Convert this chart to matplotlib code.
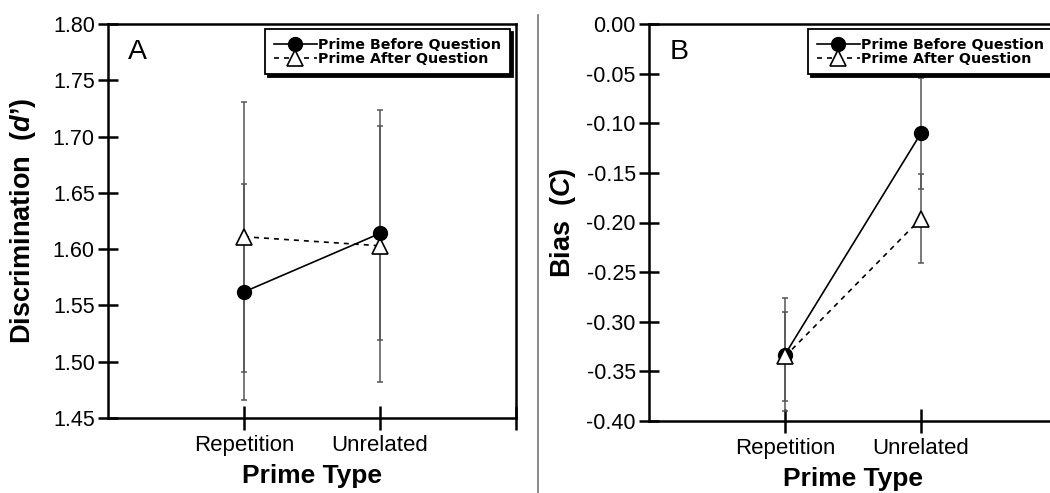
import matplotlib
matplotlib.use("Agg")
import matplotlib.pyplot as plt
from matplotlib.lines import Line2D

plt.rcParams['font.family'] = ['Liberation Sans', 'DejaVu Sans']
plt.rcParams['mathtext.fontset'] = 'custom'
plt.rcParams['mathtext.it'] = 'Liberation Sans:italic:bold'
plt.rcParams['mathtext.rm'] = 'Liberation Sans:bold'
plt.rcParams['axes.unicode_minus'] = False

prime_types = ["Repetition", "Unrelated"]
x_pos = [1, 2]

# panel A: discrimination d'
d_before = [1.562, 1.614]
d_before_err = [0.096, 0.095]
d_after = [1.611, 1.603]
d_after_err = [0.120, 0.121]
d_ticks = [1.45, 1.50, 1.55, 1.60, 1.65, 1.70, 1.75, 1.80]

# panel B: bias C
c_before = [-0.333, -0.110]
c_before_err = [0.057, 0.056]
c_after = [-0.335, -0.196]
c_after_err = [0.045, 0.045]
c_ticks = [-0.40, -0.35, -0.30, -0.25, -0.20, -0.15, -0.10, -0.05, 0.00]

labels = ["Prime Before Question", "Prime After Question"]

W, H = 1050, 493
fig = plt.figure(figsize=(W / 100, H / 100), dpi=100)
axA = fig.add_axes([108 / W, 1 - 418 / H, 408 / W, 394 / H])
axB = fig.add_axes([649 / W, 1 - 421 / H, 408 / W, 397 / H])

# separator line between panels
fig.add_artist(Line2D([538 / W, 538 / W], [0, 1 - 15 / H], color="#777777", lw=1.2,
                      transform=fig.transFigure))


def panel(ax, before, before_err, after, after_err, ticks, ylabel, letter,
          before_on_top, leg_anchor, leg_loc, xlab_y, ylab_x):
    zb, za = (4, 3) if before_on_top else (3, 4)
    ax.errorbar(x_pos, before, yerr=before_err, fmt='none', ecolor='#555555',
                elinewidth=1.1, capsize=2.5, capthick=1.1, zorder=2)
    ax.errorbar(x_pos, after, yerr=after_err, fmt='none', ecolor='#555555',
                elinewidth=1.1, capsize=2.5, capthick=1.1, zorder=2)
    ax.plot(x_pos, before, '-', color='black', lw=1.2, marker='o', ms=10,
            mfc='black', mec='black', zorder=zb, label=labels[0])
    ax.plot(x_pos, after, '--', color='black', lw=1.2, dashes=(3, 3), marker='^',
            ms=11, mfc='white', mec='black', mew=1.2, zorder=za, label=labels[1])

    ax.set_xlim(0, 3)
    ax.set_ylim(ticks[0], ticks[-1])
    ax.set_xticks(x_pos)
    ax.set_xticklabels(prime_types)
    ax.set_xticks([3], minor=True)
    ax.set_yticks(ticks)
    ax.set_yticklabels(["%.2f" % t for t in ticks])
    ax.tick_params(axis='both', which='both', direction='inout', width=1.8,
                   labelsize=15.5)
    ax.tick_params(axis='y', length=15, pad=2)
    ax.tick_params(axis='x', which='both', length=17, pad=4, labelsize=16)
    for s in ax.spines.values():
        s.set_linewidth(1.8)

    ax.set_xlabel("Prime Type", fontsize=19, fontweight='bold')
    ax.xaxis.set_label_coords(0.5, xlab_y)
    ax.xaxis.label.set_va('baseline')
    ax.set_ylabel(ylabel, fontsize=19.5, fontweight='bold')
    ax.yaxis.set_label_coords(ylab_x, 0.5)

    ax.text(0.05, 0.911, letter, transform=ax.transAxes, fontsize=20.5,
            ha='left', va='baseline')

    leg = ax.legend(loc=leg_loc, bbox_to_anchor=leg_anchor, borderaxespad=0,
                    fancybox=False, edgecolor='black', framealpha=1,
                    shadow={'color': 'black', 'alpha': 1},
                    prop={'family': 'DejaVu Sans', 'weight': 'bold', 'size': 10.3},
                    handlelength=3.0, handletextpad=0.1, labelspacing=0.0,
                    borderpad=0.6, markerscale=1.0)
    leg.get_frame().set_linewidth(1.3)
    leg.set_zorder(10)


panel(axA, d_before, d_before_err, d_after, d_after_err, d_ticks,
      "Discrimination  $\\mathit{(d\u2019)}$", "A", True,
      (0.985, 0.987), 'upper right', -0.165, -0.172)
panel(axB, c_before, c_before_err, c_after, c_after_err, c_ticks,
      "Bias  $\\mathit{(C)}$", "B", False,
      (0.39, 0.987), 'upper left', -0.164, -0.174)

fig.savefig("out.png", dpi=100)
